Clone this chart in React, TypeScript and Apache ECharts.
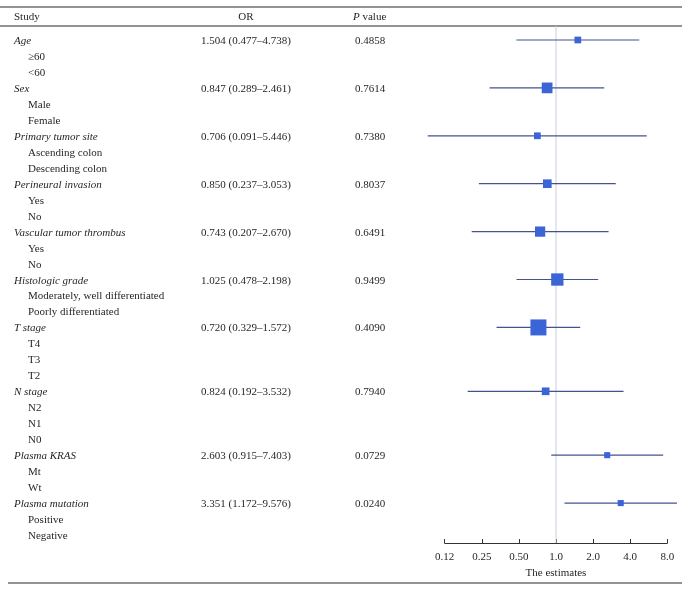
import React, { useEffect, useRef } from "react";
import * as echarts from "echarts";

const studies = [
  "Age",
  "Sex",
  "Primary tumor site",
  "Perineural invasion",
  "Vascular tumor thrombus",
  "Histologic grade",
  "T stage",
  "N stage",
  "Plasma KRAS",
  "Plasma mutation",
];
const subgroups = [
  ["≥60", "<60"],
  ["Male", "Female"],
  ["Ascending colon", "Descending colon"],
  ["Yes", "No"],
  ["Yes", "No"],
  ["Moderately, well differentiated", "Poorly differentiated"],
  ["T4", "T3", "T2"],
  ["N2", "N1", "N0"],
  ["Mt", "Wt"],
  ["Positive", "Negative"],
];
const orValues = [1.504, 0.847, 0.706, 0.85, 0.743, 1.025, 0.72, 0.824, 2.603, 3.351];
const ciLower = [0.477, 0.289, 0.091, 0.237, 0.207, 0.478, 0.329, 0.192, 0.915, 1.172];
const ciUpper = [4.738, 2.461, 5.446, 3.053, 2.67, 2.198, 1.572, 3.532, 7.403, 9.576];
const pValues = ["0.4858", "0.7614", "0.7380", "0.8037", "0.6491", "0.9499", "0.4090", "0.7940", "0.0729", "0.0240"];
// relative box weights (largest = 1)
const boxWeights = [0.42, 0.67, 0.42, 0.54, 0.64, 0.77, 1.0, 0.48, 0.38, 0.38];
const xTicks = [0.125, 0.25, 0.5, 1, 2, 4, 8];
const xTickLabels = ["0.12", "0.25", "0.50", "1.0", "2.0", "4.0", "8.0"];
const nullEffect = 1;

const FONT = "'Liberation Serif', 'Times New Roman', serif";
const TEXT = "#231f20";

export default function App() {
  const ref = useRef<HTMLDivElement>(null);

  useEffect(() => {
    if (!ref.current) return;
    const chart = echarts.init(ref.current, null, { renderer: "svg" });

    const rows: { label: string; group: boolean; i: number }[] = [];
    studies.forEach((s, i) => {
      rows.push({ label: s, group: true, i });
      subgroups[i].forEach((sg) => rows.push({ label: sg, group: false, i }));
    });
    const studyRow = studies.map((_, i) => rows.findIndex((r) => r.group && r.i === i));

    const gridLeft = 444.7;
    const gridRight = 21.7;
    const axisBottom = 48;

    const ciData = studies.map((_, i) => [ciLower[i], ciUpper[i], studyRow[i]]);
    const boxData = studies.map((_, i) => [orValues[i], studyRow[i], boxWeights[i]]);

    const xLabelFmt = (v: number) => {
      const k = xTicks.findIndex((t) => Math.abs(Math.log2(t) - Math.log2(v)) < 1e-6);
      return k >= 0 ? xTickLabels[k] : "";
    };

    const option: any = {
      animation: false,
      grid: [
        { left: gridLeft, right: gridRight, top: 32, bottom: axisBottom },
        { left: gridLeft, right: gridRight, top: 26, bottom: axisBottom },
      ],
      xAxis: [
        {
          type: "log",
          logBase: 2,
          min: xTicks[0],
          max: xTicks[xTicks.length - 1],
          gridIndex: 0,
          splitLine: { show: false },
          axisLine: { show: true, lineStyle: { color: "#333", width: 1 } },
          axisTick: { show: true, inside: true, length: 4, lineStyle: { color: "#333" } },
          axisLabel: {
            formatter: xLabelFmt,
            color: TEXT,
            fontFamily: FONT,
            fontSize: 11,
            margin: 7,
            showMinLabel: true,
            showMaxLabel: true,
          },
          name: "The estimates",
          nameLocation: "middle",
          nameGap: 23,
          nameTextStyle: { color: TEXT, fontFamily: FONT, fontSize: 11 },
        },
        {
          type: "log",
          logBase: 2,
          min: xTicks[0],
          max: xTicks[xTicks.length - 1],
          gridIndex: 1,
          show: false,
        },
      ],
      yAxis: [
        {
          type: "category",
          inverse: true,
          gridIndex: 0,
          data: rows.map((_, k) => "r" + k),
          axisLine: { show: false },
          axisTick: { show: false },
          splitLine: { show: false },
          axisLabel: {
            interval: 0,
            align: "left",
            margin: gridLeft - 14,
            color: TEXT,
            fontFamily: FONT,
            fontSize: 11,
            formatter: (_v: string, idx: number) => {
              const r = rows[idx];
              if (!r) return "";
              if (r.group) {
                const i = r.i;
                return `{g|${r.label}}{or|${orValues[i].toFixed(3)} (${ciLower[i].toFixed(3)}–${ciUpper[i].toFixed(3)})}{p|${pValues[i]}}`;
              }
              return `{ind| }{s|${r.label}}`;
            },
            rich: {
              g: { width: 187, fontStyle: "italic", fontFamily: FONT, fontSize: 11, color: TEXT },
              or: { width: 154, fontFamily: FONT, fontSize: 11, color: TEXT },
              p: { fontFamily: FONT, fontSize: 11, color: TEXT },
              ind: { width: 14, fontFamily: FONT, fontSize: 11 },
              s: { fontFamily: FONT, fontSize: 11, color: TEXT },
            },
          },
        },
        { type: "value", min: 0, max: 1, gridIndex: 1, show: false },
      ],
      series: [
        {
          type: "line",
          xAxisIndex: 1,
          yAxisIndex: 1,
          data: [
            [nullEffect, 0],
            [nullEffect, 1],
          ],
          symbol: "none",
          lineStyle: { color: "#c9cfdb", width: 1 },
          z: 1,
          silent: true,
        },
        {
          type: "custom",
          xAxisIndex: 0,
          yAxisIndex: 0,
          data: ciData,
          encode: { x: [0, 1], y: 2 },
          clip: false,
          z: 2,
          renderItem: (params: any, api: any) => {
            const p1 = api.coord([api.value(0), api.value(2)]);
            const p2 = api.coord([api.value(1), api.value(2)]);
            return {
              type: "line",
              shape: { x1: p1[0], y1: p1[1], x2: p2[0], y2: p2[1] },
              style: { stroke: "#46528f", lineWidth: 1.2 },
            };
          },
        },
        {
          type: "scatter",
          xAxisIndex: 0,
          yAxisIndex: 0,
          data: boxData,
          symbol: "rect",
          symbolSize: (val: number[]) => val[2] * 16,
          itemStyle: { color: "#3b64d6", opacity: 1 },
          z: 3,
        },
      ],
      graphic: [
        { type: "line", shape: { x1: 0, y1: 7, x2: 682, y2: 7 }, style: { stroke: "#6f6f6f", lineWidth: 1.3 } },
        { type: "line", shape: { x1: 0, y1: 26, x2: 682, y2: 26 }, style: { stroke: "#6f6f6f", lineWidth: 1.3 } },
        { type: "line", shape: { x1: 8, y1: 583, x2: 682, y2: 583 }, style: { stroke: "#6f6f6f", lineWidth: 1.3 } },
        {
          type: "text",
          x: 14,
          y: 16,
          style: { text: "Study", fontFamily: FONT, fontSize: 11, fill: TEXT, verticalAlign: "middle" },
        },
        {
          type: "text",
          x: 246,
          y: 16,
          style: { text: "OR", fontFamily: FONT, fontSize: 11, fill: TEXT, align: "center", verticalAlign: "middle" },
        },
        {
          type: "text",
          x: 353,
          y: 16,
          style: {
            text: "{i|P} value",
            fontFamily: FONT,
            fontSize: 11,
            fill: TEXT,
            verticalAlign: "middle",
            rich: { i: { fontStyle: "italic", fontFamily: FONT, fontSize: 11, fill: TEXT } },
          },
        },
      ],
    };

    chart.setOption(option);
    return () => chart.dispose();
  }, []);

  return <div ref={ref} style={{ position: "fixed", left: 0, top: 0, width: 689, height: 591 }} />;
}
